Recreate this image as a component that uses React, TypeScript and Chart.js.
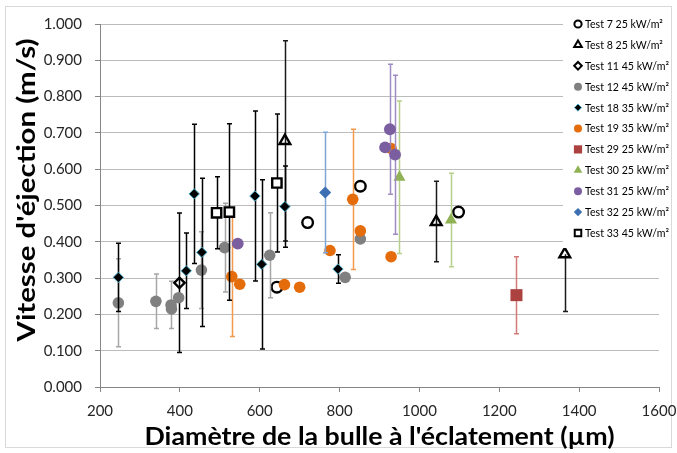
import React, { useEffect, useRef } from 'react';
import { Chart, registerables } from 'chart.js';

Chart.register(...registerables);

const FONT = 'Lato, "Liberation Sans", sans-serif';

// Bubble diameter at bursting (µm) and ejection velocity (m/s) for each test,
// with the half-width of the error bar on each velocity.
const t7X = [643, 720, 852, 1098];
const t7Y = [0.275, 0.453, 0.553, 0.482];

const t8X = [663, 1042, 1364];
const t8Y = [0.678, 0.455, 0.366];
const t8ErrUp = [0.276, 0.112, 0];
const t8ErrDown = [0.276, 0.11, 0.158];

const t11X = [399];
const t11Y = [0.287];
const t11Err = [0.192];

const t12X = [246, 340, 378, 379, 397, 454, 512, 625, 814, 852];
const t12Y = [0.232, 0.236, 0.226, 0.215, 0.246, 0.322, 0.384, 0.363, 0.302, 0.408];
const t12Err = [0.121, 0.075, 0.065, 0, 0, 0.106, 0.122, 0.117, 0, 0];

const t18X = [246, 416, 436, 455, 588, 605, 663, 796];
const t18Y = [0.302, 0.32, 0.532, 0.371, 0.526, 0.338, 0.497, 0.325];
const t18Err = [0.094, 0.104, 0.192, 0.204, 0.234, 0.233, 0.112, 0.039];

const t19X = [530, 550, 662, 700, 776, 833, 852, 929, 929];
const t19Y = [0.304, 0.283, 0.282, 0.275, 0.376, 0.517, 0.43, 0.657, 0.359];
const t19Err = [0.165, 0, 0, 0, 0, 0.193, 0, 0, 0];

const t29X = [1243];
const t29Y = [0.253];
const t29Err = [0.106];

const t30X = [950, 1079];
const t30Y = [0.578, 0.46];
const t30Err = [0.21, 0.129];

const t31X = [545, 914, 926, 939];
const t31Y = [0.395, 0.66, 0.71, 0.64];
const t31Err = [0, 0, 0.179, 0.219];

const t32X = [764];
const t32Y = [0.536];
const t32Err = [0.166];

const t33X = [492, 524, 643];
const t33Y = [0.48, 0.482, 0.562];
const t33Err = [0.099, 0.243, 0.19];

const xTitle = "Diamètre de la bulle à l'éclatement (µm)";
const yTitle = "Vitesse d'éjection (m/s)";

type Series = {
  label: string;
  xs: number[];
  ys: number[];
  up: number[];
  down: number[];
  pointStyle: string;
  radius: number;
  legendRadius: number;
  fill: string;
  stroke: string;
  strokeWidth: number;
  errColor: string;
};

const SERIES: Series[] = [
  { label: 'Test 7 25 kW/m²', xs: t7X, ys: t7Y, up: [], down: [], pointStyle: 'circle', radius: 5.3, legendRadius: 3.6, fill: 'rgba(0,0,0,0)', stroke: '#000', strokeWidth: 2.4, errColor: '#000' },
  { label: 'Test 8 25 kW/m²', xs: t8X, ys: t8Y, up: t8ErrUp, down: t8ErrDown, pointStyle: 'triangle', radius: 6.2, legendRadius: 4.4, fill: 'rgba(0,0,0,0)', stroke: '#000', strokeWidth: 2.4, errColor: '#1a1a1a' },
  { label: 'Test 11 45 kW/m²', xs: t11X, ys: t11Y, up: t11Err, down: t11Err, pointStyle: 'rectRot', radius: 5.2, legendRadius: 3.8, fill: 'rgba(0,0,0,0)', stroke: '#000', strokeWidth: 2.4, errColor: '#000' },
  { label: 'Test 12 45 kW/m²', xs: t12X, ys: t12Y, up: t12Err, down: t12Err, pointStyle: 'circle', radius: 5.8, legendRadius: 4, fill: '#808080', stroke: '#808080', strokeWidth: 0, errColor: '#a6a6a6' },
  { label: 'Test 18 35 kW/m²', xs: t18X, ys: t18Y, up: t18Err, down: t18Err, pointStyle: 'rectRot', radius: 5.2, legendRadius: 3.6, fill: '#000', stroke: '#4bacc6', strokeWidth: 1, errColor: '#000' },
  { label: 'Test 19 35 kW/m²', xs: t19X, ys: t19Y, up: t19Err, down: t19Err, pointStyle: 'circle', radius: 5.8, legendRadius: 4, fill: '#e46c0a', stroke: '#e46c0a', strokeWidth: 0, errColor: '#f39a4c' },
  { label: 'Test 29 25 kW/m²', xs: t29X, ys: t29Y, up: t29Err, down: t29Err, pointStyle: 'rect', radius: 8.5, legendRadius: 5.8, fill: '#ac4240', stroke: '#ac4240', strokeWidth: 0, errColor: '#d27c7a' },
  { label: 'Test 30 25 kW/m²', xs: t30X, ys: t30Y, up: t30Err, down: t30Err, pointStyle: 'triangle', radius: 7, legendRadius: 5, fill: '#8fb254', stroke: '#8fb254', strokeWidth: 0, errColor: '#b7d08c' },
  { label: 'Test 31 25 kW/m²', xs: t31X, ys: t31Y, up: t31Err, down: t31Err, pointStyle: 'circle', radius: 5.9, legendRadius: 4, fill: '#7b5ea0', stroke: '#7b5ea0', strokeWidth: 0, errColor: '#9f8cc0' },
  { label: 'Test 32 25 kW/m²', xs: t32X, ys: t32Y, up: t32Err, down: t32Err, pointStyle: 'rectRot', radius: 6, legendRadius: 4.2, fill: '#3d70b2', stroke: '#3d70b2', strokeWidth: 0, errColor: '#7fa5d5' },
  { label: 'Test 33 45 kW/m²', xs: t33X, ys: t33Y, up: t33Err, down: t33Err, pointStyle: 'rect', radius: 6.6, legendRadius: 4.6, fill: '#fff', stroke: '#000', strokeWidth: 2.4, errColor: '#000' },
];

function drawMarker(ctx: CanvasRenderingContext2D, s: Series, x: number, y: number, r: number) {
  ctx.save();
  ctx.beginPath();
  if (s.pointStyle === 'circle') {
    ctx.arc(x, y, r, 0, Math.PI * 2);
  } else if (s.pointStyle === 'triangle') {
    for (let k = 0; k < 3; k++) {
      const a = -Math.PI / 2 + (k * 2 * Math.PI) / 3;
      const px = x + Math.cos(a) * r;
      const py = y + Math.sin(a) * r;
      if (k === 0) ctx.moveTo(px, py);
      else ctx.lineTo(px, py);
    }
    ctx.closePath();
  } else if (s.pointStyle === 'rectRot') {
    ctx.moveTo(x - r, y);
    ctx.lineTo(x, y - r);
    ctx.lineTo(x + r, y);
    ctx.lineTo(x, y + r);
    ctx.closePath();
  } else {
    const h = r * Math.SQRT1_2;
    ctx.rect(x - h, y - h, 2 * h, 2 * h);
  }
  ctx.fillStyle = s.fill;
  ctx.fill();
  if (s.strokeWidth > 0) {
    ctx.lineWidth = Math.min(s.strokeWidth, 2);
    ctx.strokeStyle = s.stroke;
    ctx.stroke();
  }
  ctx.restore();
}

// Draws a bold title squeezed or stretched horizontally to the given width.
function fitText(ctx: CanvasRenderingContext2D, text: string, cx: number, cy: number, width: number, rotate: boolean) {
  ctx.save();
  ctx.translate(cx, cy);
  if (rotate) ctx.rotate(-Math.PI / 2);
  const w = ctx.measureText(text).width;
  ctx.scale(width / w, 1);
  ctx.fillText(text, 0, 0);
  ctx.restore();
}

const decorPlugin = {
  id: 'decor',
  beforeDraw(chart: any) {
    const { ctx, width, height } = chart;
    ctx.save();
    ctx.fillStyle = '#ffffff';
    ctx.fillRect(0, 0, width, height);
    ctx.strokeStyle = '#d9d9d9';
    ctx.lineWidth = 1;
    ctx.strokeRect(5.5, 6.5, width - 11, height - 12);
    ctx.restore();
  },
  beforeDatasetDraw(chart: any, args: any) {
    const s = SERIES[args.index];
    if (!s) return;
    const { ctx } = chart;
    const xs = chart.scales.x;
    const ys = chart.scales.y;
    ctx.save();
    ctx.strokeStyle = s.errColor;
    ctx.lineWidth = 1.5;
    const cap = 2.5;
    s.xs.forEach((xv, i) => {
      const u = s.up[i] || 0;
      const d = s.down[i] || 0;
      if (!u && !d) return;
      const px = Math.round(xs.getPixelForValue(xv)) + 0.5;
      const top = ys.getPixelForValue(s.ys[i] + u);
      const bot = ys.getPixelForValue(s.ys[i] - d);
      ctx.beginPath();
      ctx.moveTo(px, top);
      ctx.lineTo(px, bot);
      if (u) {
        ctx.moveTo(px - cap, top);
        ctx.lineTo(px + cap, top);
      }
      if (d) {
        ctx.moveTo(px - cap, bot);
        ctx.lineTo(px + cap, bot);
      }
      ctx.stroke();
    });
    ctx.restore();
  },
  afterDraw(chart: any) {
    const { ctx, chartArea } = chart;
    ctx.save();
    // legend panel over the right side of the plot
    ctx.fillStyle = '#ffffff';
    ctx.fillRect(563, 12, 108, 236);
    ctx.font = `10.6px ${FONT}`;
    ctx.textAlign = 'left';
    ctx.textBaseline = 'middle';
    SERIES.forEach((s, i) => {
      const cy = 24 + i * 20.9;
      drawMarker(ctx, s, 578, cy, s.legendRadius);
      ctx.fillStyle = '#000';
      ctx.fillText(s.label, 585, cy + 0.5);
    });

    // axis titles
    ctx.font = `bold 25px ${FONT}`;
    ctx.fillStyle = '#000';
    ctx.textAlign = 'center';
    ctx.textBaseline = 'middle';
    fitText(ctx, xTitle, (chartArea.left + chartArea.right) / 2, 437, 470, false);
    fitText(ctx, yTitle, 27, 190, 303, true);
    ctx.restore();
  },
};

export default function App() {
  const canvasRef = useRef<HTMLCanvasElement | null>(null);

  useEffect(() => {
    const canvas = canvasRef.current;
    if (!canvas) return;
    const n = SERIES.length;
    const chart = new Chart(canvas, {
      type: 'scatter',
      data: {
        datasets: SERIES.map((s, i) => ({
          label: s.label,
          data: s.xs.map((x, k) => ({ x, y: s.ys[k] })),
          pointStyle: s.pointStyle as any,
          pointRadius: s.radius,
          pointHoverRadius: s.radius,
          pointBackgroundColor: s.fill,
          pointBorderColor: s.stroke,
          pointBorderWidth: s.strokeWidth,
          showLine: false,
          order: n - i,
        })),
      },
      options: {
        animation: false,
        responsive: false,
        devicePixelRatio: 1,
        layout: { padding: { left: 0, top: 24, right: 18, bottom: 0 } },
        plugins: {
          legend: { display: false },
          tooltip: { enabled: false },
        },
        scales: {
          x: {
            type: 'linear',
            min: 200,
            max: 1600,
            afterFit: (scale: any) => {
              scale.height = 66;
              scale.paddingLeft = 0;
              scale.paddingRight = 0;
            },
            ticks: {
              stepSize: 200,
              autoSkip: false,
              maxRotation: 0,
              padding: 10,
              color: '#262626',
              font: { family: FONT, size: 15 },
              callback: (v: any) => String(v),
            },
            grid: {
              drawOnChartArea: false,
              drawTicks: true,
              tickLength: 5,
              tickColor: '#868686',
            },
            border: { display: true, color: '#868686', width: 1 },
          },
          y: {
            type: 'linear',
            min: 0,
            max: 1,
            afterFit: (scale: any) => {
              scale.width = 100;
              scale.paddingTop = 0;
              scale.paddingBottom = 0;
            },
            ticks: {
              stepSize: 0.1,
              padding: 13,
              color: '#262626',
              font: { family: FONT, size: 15 },
              callback: (v: any) => Number(v).toFixed(3),
            },
            grid: {
              color: '#bcbcbc',
              lineWidth: 1,
              drawTicks: true,
              tickLength: 5,
              tickColor: '#868686',
            },
            border: { display: true, color: '#868686', width: 1 },
          },
        },
      },
      plugins: [decorPlugin],
    });
    return () => chart.destroy();
  }, []);

  return (
    <div style={{ position: 'fixed', left: 0, top: 0, width: 677, height: 453, background: '#fff' }}>
      <canvas ref={canvasRef} width={677} height={453} style={{ width: 677, height: 453, display: 'block' }} />
    </div>
  );
}
